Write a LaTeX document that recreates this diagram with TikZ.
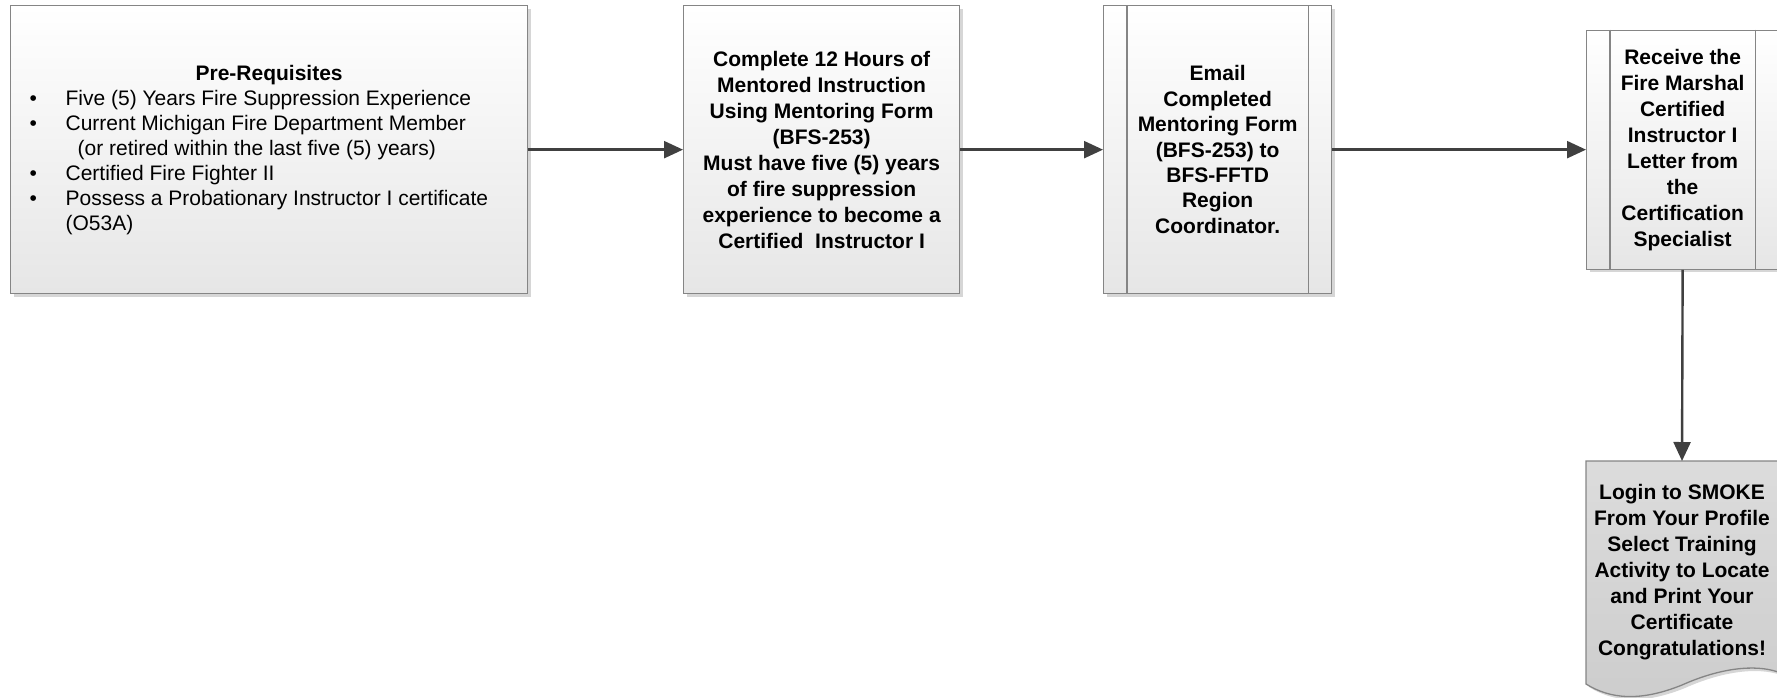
\documentclass[tikz,border=0pt]{standalone}
\usepackage{fontspec}
\setmainfont{Liberation Sans}
\usetikzlibrary{arrows.meta,shadows}
\definecolor{edgegray}{HTML}{858585}
\definecolor{arrgray}{HTML}{404040}
\definecolor{boxbot}{HTML}{E6E6E6}
\definecolor{doctop}{HTML}{DCDCDC}
\definecolor{docbot}{HTML}{CDCDCD}
\definecolor{shadgray}{HTML}{D6D6D6}
\tikzset{
  myshadow/.style={drop shadow={shadow xshift=3pt, shadow yshift=-3pt, fill=shadgray, opacity=1}},
  flowbox/.style={draw=edgegray, line width=1.3pt, top color=white, bottom color=boxbot,
    myshadow, inner sep=0pt, anchor=north west},
  boxtext/.style={font=\bfseries\fontsize{21}{26}\selectfont, align=center},
  flow/.style={draw=arrgray, line width=2.4pt, -{Triangle[length=19pt,width=17pt]}},
  innerline/.style={draw=edgegray, line width=1.3pt},
}
\begin{document}
\begin{tikzpicture}[x=1pt,y=-1pt]
\useasboundingbox (0,0) rectangle (1777,697);

% Box 1: prerequisites
\node[flowbox, minimum width=517pt, minimum height=288pt] (b1) at (10,5) {%
  \parbox[c]{517pt}{\fontsize{21}{25}\selectfont
    \centering\textbf{Pre-Requisites}\par
    \raggedright
    \hspace*{19pt}\makebox[36pt][l]{•}Five (5) Years Fire Suppression Experience\par
    \hspace*{19pt}\makebox[36pt][l]{•}Current Michigan Fire Department Member\par
    \hspace*{67pt}(or retired within the last five (5) years)\par
    \hspace*{19pt}\makebox[36pt][l]{•}Certified Fire Fighter II\par
    \hspace*{19pt}\makebox[36pt][l]{•}Possess a Probationary Instructor I certificate\par
    \hspace*{55pt}(O53A)\par}};

% Box 2
\node[flowbox, boxtext, minimum width=276pt, minimum height=288pt] (b2) at (683,5)
  {Complete 12 Hours of\\Mentored Instruction\\Using Mentoring Form\\(BFS-253)\\Must have five (5) years\\of fire suppression\\experience to become a\\Certified\ \ Instructor I};

% Box 3 (predefined process)
\node[flowbox, boxtext, font=\bfseries\fontsize{21}{25.4}\selectfont, minimum width=228pt, minimum height=288pt] (b3) at (1103,5)
  {Email\\Completed\\Mentoring Form\\(BFS-253) to\\BFS-FFTD\\Region\\Coordinator.};
\draw[innerline] ([xshift=24pt]b3.north west) -- ([xshift=24pt]b3.south west);
\draw[innerline] ([xshift=-24pt]b3.north east) -- ([xshift=-24pt]b3.south east);

% Box 4 (predefined process)
\node[flowbox, boxtext, minimum width=192pt, minimum height=239pt] (b4) at (1586,29.5)
  {Receive the\\Fire Marshal\\Certified\\Instructor I\\Letter from\\the\\Certification\\Specialist};
\draw[innerline] ([xshift=24pt]b4.north west) -- ([xshift=24pt]b4.south west);
\draw[innerline] ([xshift=-24pt]b4.north east) -- ([xshift=-24pt]b4.south east);

% Box 5 (document shape)
\path[draw=edgegray, line width=1.3pt, top color=doctop, bottom color=docbot, myshadow]
  (1586,461) -- (1778,461) -- (1778,672)
  .. controls (1755,664) and (1720,668) .. (1682,685)
  .. controls (1640,702) and (1610,699) .. (1586,684) -- cycle;
\node[boxtext, minimum width=192pt, minimum height=222pt, inner sep=0pt, anchor=north] (b5) at (1682,461)
  {Login to SMOKE\\From Your Profile\\Select Training\\Activity to Locate\\and Print Your\\Certificate\\Congratulations!};

% Connectors
\draw[flow] (b1.east) -- (b2.west);
\draw[flow] (b2.east) -- (b3.west);
\draw[flow] (b3.east) -- (b4.west);
\draw[flow] (b4.south) -- (b5.north);
\end{tikzpicture}
\end{document}
